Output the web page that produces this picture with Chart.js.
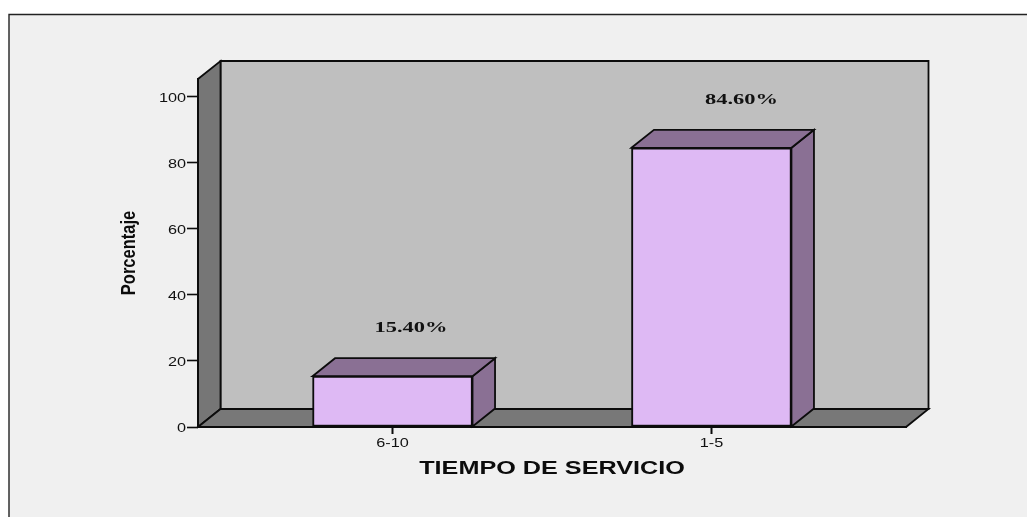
<!DOCTYPE html>
<html><head><meta charset="utf-8">
<script src="https://cdn.jsdelivr.net/npm/chart.js@4"></script>
<style>html,body{margin:0;padding:0;background:#fff}canvas{display:block}</style>
</head><body><div style="width:1027px;height:517px"><canvas id="c"></canvas></div>
<script>
const categories = ['6-10', '1-5'];
const values = [15.4, 84.6];
const valueLabels = ['15.40%', '84.60%'];
const yTicks = [0, 20, 40, 60, 80, 100];
const yTitle = 'Porcentaje';
const xTitle = 'TIEMPO DE SERVICIO';

const DX = 22.5, DY = 18;
const INK = '#0c0c0c';
function poly(ctx, pts, fill) {
  ctx.beginPath();
  pts.forEach((p, i) => i ? ctx.lineTo(p[0], p[1]) : ctx.moveTo(p[0], p[1]));
  ctx.closePath();
  ctx.fillStyle = fill; ctx.fill();
  ctx.strokeStyle = INK; ctx.lineWidth = 1.8; ctx.lineJoin = 'miter'; ctx.stroke();
}
const scene = {
  id: 'scene',
  beforeDraw(chart) {
    const ctx = chart.ctx, a = chart.chartArea;
    if (!ctx.__wide) {
      ctx.__wide = true;
      const ft = ctx.fillText;
      ctx.fillText = function (t, x, y) {
        let s = 1.25, dy = 0;
        if (this.font.includes('Serif')) s = 1.55;
        else if (t === xTitle) s = 1.40;
        else if (t === yTitle) s = 0.825;
        else if (this.textAlign === 'right') dy = 1.5;
        this.save(); this.translate(x, y + dy); this.scale(s, 1);
        ft.call(this, t, 0, 0); this.restore();
      };
    }
    ctx.save();
    ctx.fillStyle = '#f0f0f0'; ctx.fillRect(9, 14, 1018, 503);
    ctx.strokeStyle = '#222'; ctx.lineWidth = 1.4;
    ctx.beginPath(); ctx.moveTo(9, 517); ctx.lineTo(9, 14.5); ctx.lineTo(1027, 14.5); ctx.stroke();
    const L = a.left, R = a.right, T = a.top, B = a.bottom;
    poly(ctx, [[L + DX, T - DY], [R + DX, T - DY], [R + DX, B - DY], [L + DX, B - DY]], '#bfbfbf');
    poly(ctx, [[L, B], [L + DX, B - DY], [L + DX, T - DY], [L, T]], '#767676');
    poly(ctx, [[L, B], [L + DX, B - DY], [R + DX, B - DY], [R, B]], '#787878');
    ctx.restore();
  },
  beforeDatasetsDraw(chart) {
    const ctx = chart.ctx;
    ctx.save();
    chart.getDatasetMeta(0).data.forEach(b => {
      const w = b.width / 2, l = b.x - w, r = b.x + w, t = b.y, bt = b.base;
      poly(ctx, [[r, bt], [r + DX, bt - DY], [r + DX, t - DY], [r, t]], '#8a7094');
      poly(ctx, [[l, t], [l + DX, t - DY], [r + DX, t - DY], [r, t]], '#8a7094');
    });
    ctx.restore();
  },
  afterDatasetsDraw(chart) {
    const ctx = chart.ctx;
    ctx.save();
    ctx.font = 'bold 14.5px "Liberation Serif"';
    ctx.fillStyle = '#111'; ctx.textAlign = 'center'; ctx.textBaseline = 'middle';
    chart.getDatasetMeta(0).data.forEach((b, i) => ctx.fillText(valueLabels[i], b.x + (i ? 30 : 18.5), b.y - 48));
    ctx.restore();
  }
};
new Chart(document.getElementById('c'), {
  type: 'bar',
  data: { datasets: [{
    data: values.map((v, i) => ({ x: i, y: v })),
    backgroundColor: '#deb9f4', borderColor: INK, borderWidth: 2, borderSkipped: false,
    barThickness: 160
  }] },
  plugins: [scene],
  options: {
    responsive: true, maintainAspectRatio: false, animation: false,
    layout: { padding: { left: 117, right: 121, top: 79, bottom: 37 } },
    plugins: { legend: { display: false }, tooltip: { enabled: false } },
    scales: {
      x: {
        type: 'linear', min: -0.61, max: 1.61, offset: false,
        afterBuildTicks: s => { s.ticks = categories.map((c, i) => ({ value: i })); },
        afterFit: s => { s.height = 53; },
        ticks: { autoSkip: false, maxRotation: 0, callback: v => categories[v], color: '#111', padding: 2,
                 font: { family: '"Liberation Sans"', size: 13 } },
        grid: { offset: false, drawOnChartArea: false, drawTicks: true, tickLength: 7, tickWidth: 2, tickColor: INK },
        border: { display: true, color: INK, width: 2 },
        title: { display: true, text: xTitle, color: '#0c0c0c', padding: 0,
                 font: { family: '"Liberation Sans"', size: 18, weight: 'bold' } }
      },
      y: {
        min: 0, max: 105.45,
        afterBuildTicks: s => { s.ticks = yTicks.map(v => ({ value: v })); },
        afterFit: s => { s.width = 81; },
        ticks: { color: '#111', padding: 1, font: { family: '"Liberation Sans"', size: 13 } },
        grid: { drawOnChartArea: false, drawTicks: true, tickLength: 11, tickWidth: 1.6, tickColor: INK },
        border: { display: true, color: INK, width: 2 },
        title: { display: true, text: yTitle, color: '#0c0c0c', padding: 0,
                 font: { family: '"Liberation Sans"', size: 20, weight: 'bold' } }
      }
    }
  }
});
</script></body></html>
